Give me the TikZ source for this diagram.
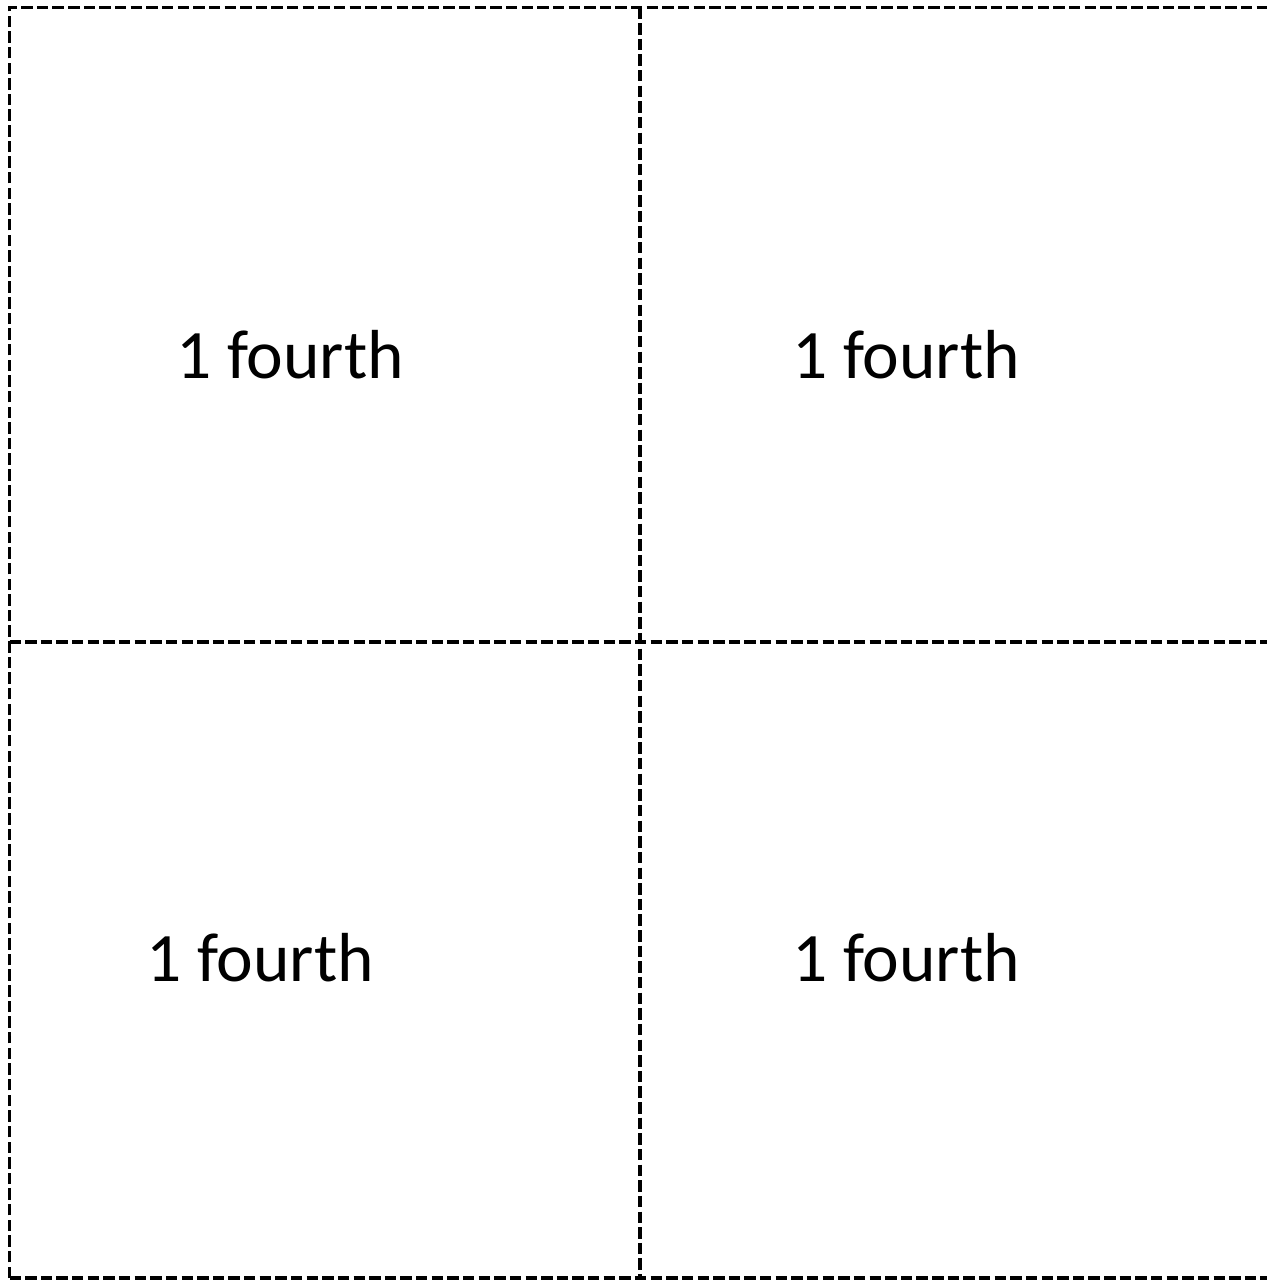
\documentclass[tikz,border=0pt]{standalone}
\usepackage{fontspec}
\setmainfont{Carlito}
\usetikzlibrary{positioning}

\begin{document}
\begin{tikzpicture}[x=0.02cm,y=-0.02cm,
cut/.style={draw,line width=2pt,dash pattern=on 6.5pt off 2.4pt},
part/.style={anchor=base,inner sep=0pt,font=\fontsize{39.5}{47}\selectfont}]
\useasboundingbox (0,0) rectangle (1267,1281);
\draw[cut] (9.5,1278) -- (9.5,7.5) -- (1272,7.5);
\draw[cut] (9.5,1278) -- (1272,1278);
\draw[cut] (640,7.5) -- (640,1278);
\draw[cut] (9.5,642) -- (1272,642);
\node[part] (tl) at (290,378) {1 fourth};
\node[part] (tr) at (906,378) {1 fourth};
\node[part] (bl) at (260,981) {1 fourth};
\node[part] (br) at (906,981) {1 fourth};
\end{tikzpicture}
\end{document}
